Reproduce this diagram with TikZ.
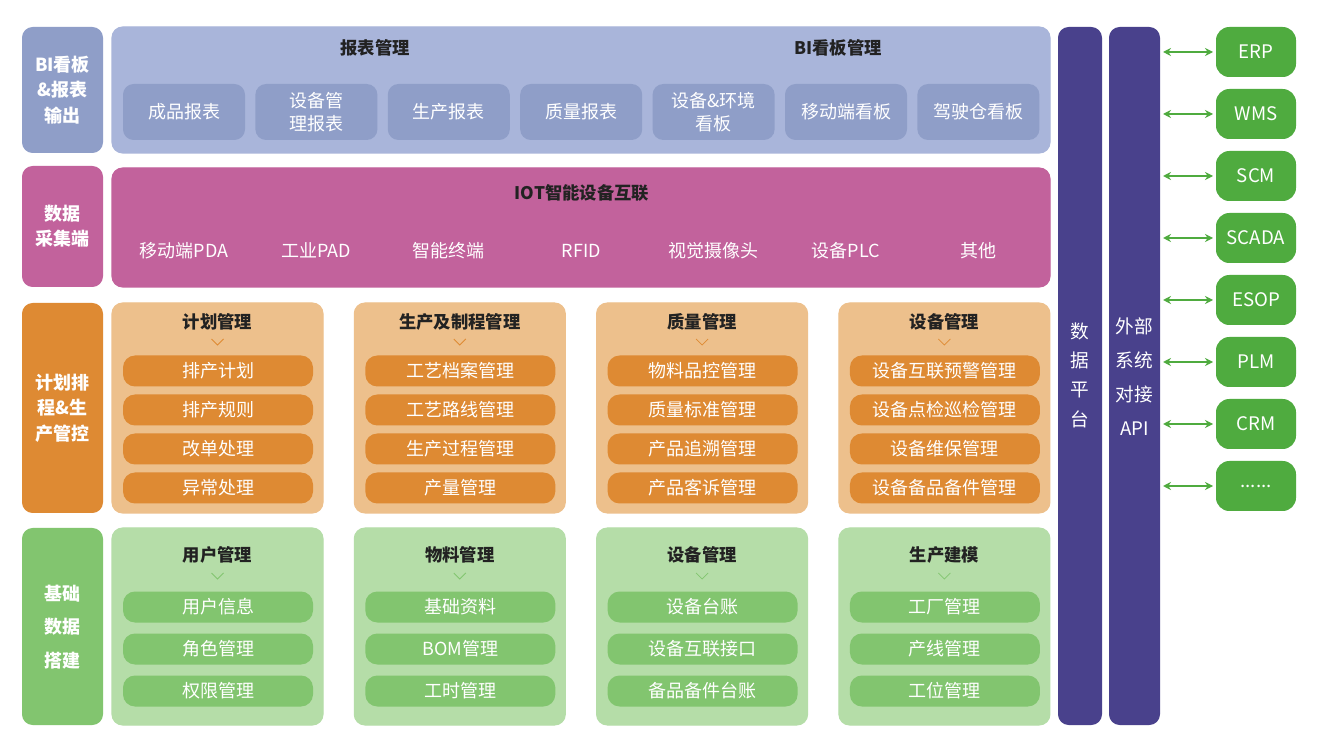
\documentclass[tikz,border=0pt]{standalone}
\usepackage{fontspec}
\setmainfont{Noto Sans CJK SC}
\usetikzlibrary{arrows.meta}
\newcommand\mysixdots{......}
\definecolor{cB}{HTML}{8F9EC8}
\definecolor{cBl}{HTML}{A9B5DA}
\definecolor{cP}{HTML}{C2629C}
\definecolor{cO}{HTML}{DE8A33}
\definecolor{cOl}{HTML}{EDC08C}
\definecolor{cG}{HTML}{82C56F}
\definecolor{cGl}{HTML}{B5DDA8}
\definecolor{cGd}{HTML}{4FAB3F}
\definecolor{cV}{HTML}{49418C}
\definecolor{tx}{HTML}{222222}
\begin{document}
\begin{tikzpicture}[x=0.75pt,y=-0.75pt,
  lab/.style={rounded corners=7pt,text=white,font=\fontsize{13.5}{19}\selectfont\bfseries,align=center,inner sep=0},
  pill/.style={rounded corners=7pt,text=white,font=\fontsize{13.5}{16}\selectfont,align=center,inner sep=0},
  panel/.style={rounded corners=8pt,draw,line width=0.8pt,fill=white},
  ttl/.style={font=\fontsize{13}{15}\selectfont\bfseries,text=tx},
  chev/.style={line width=0.6pt}]
\useasboundingbox (0,0) rectangle (1318,748);
\fill[white] (0,0) rectangle (1318,748);
% left labels
\fill[cB,rounded corners=8pt] (22,27) rectangle (103,153);
\node[lab] (l1) at (62.5,90) {BI看板\\\&报表\\输出};
\fill[cP,rounded corners=8pt] (22,166) rectangle (103,287);
\node[lab] (l2) at (62.5,226) {数据\\采集端};
\fill[cO,rounded corners=8pt] (22,303) rectangle (103,513);
\node[lab] (l3) at (62.5,408) {计划排\\程\&生\\产管控};
\fill[cG,rounded corners=8pt] (22,528) rectangle (103,725);
\node[lab,font=\fontsize{13.5}{25}\selectfont\bfseries] (l4) at (62.5,627) {基础\\数据\\搭建};
% row1
\draw[panel,cBl] (112,27) rectangle (1050,153);
\node[ttl] (t1) at (375,48) {报表管理};
\draw[chev,cBl] (369,66)--(375,72)--(381,66);
\node[ttl] (t2) at (838,48) {BI看板管理};
\draw[chev,cBl] (832,66)--(838,72)--(844,66);
\foreach \t [count=\i] in {成品报表,设备管\\理报表,生产报表,质量报表,设备\&环境\\看板,移动端看板,驾驶仓看板}{
  \pgfmathsetmacro\xa{123+(\i-1)*132.4}
  \fill[cB,rounded corners=8pt] (\xa,84) rectangle ++(122,56);
  \node[pill,font=\fontsize{13.5}{17}\selectfont] (r1b\i) at (\xa+61,112) {\t};
}
% row2
\draw[panel,cP] (112,168) rectangle (1050,287);
\node[ttl] (t3) at (582,193) {IOT智能设备互联};
\draw[chev,cP] (576,213)--(582,219)--(588,213);
\foreach \t [count=\i] in {移动端PDA,工业PAD,智能终端,RFID,视觉摄像头,设备PLC,其他}{
  \pgfmathsetmacro\xa{123+(\i-1)*132.4}
  \fill[cP,rounded corners=9pt] (\xa,233) rectangle ++(122,35);
  \node[pill] (r2b\i) at (\xa+61,250.5) {\t};
}
% row3
\foreach \h/\a/\b/\c/\d [count=\j] in {计划管理/排产计划/排产规则/改单处理/异常处理,
  生产及制程管理/工艺档案管理/工艺路线管理/生产过程管理/产量管理,
  质量管理/物料品控管理/质量标准管理/产品追溯管理/产品客诉管理,
  设备管理/设备互联预警管理/设备点检巡检管理/设备维保管理/设备备品备件管理}{
  \pgfmathsetmacro\xa{112+(\j-1)*242.3}
  \draw[panel,cOl] (\xa,303) rectangle ++(211,210);
  \node[ttl] (r3t\j) at (\xa+105.5,322) {\h};
  \draw[chev,cO] (\xa+99.5,339)--(\xa+105.5,345)--(\xa+111.5,339);
  \foreach \t/\y [count=\k] in {\a/371,\b/410,\c/449,\d/488}{
    \fill[cO,rounded corners=9pt] (\xa+11,\y-15.5) rectangle ++(190,31);
    \node[pill] (r3b\j\k) at (\xa+106,\y) {\t};
  }
}
% row4
\foreach \h/\a/\b/\c [count=\j] in {用户管理/用户信息/角色管理/权限管理,
  物料管理/基础资料/BOM管理/工时管理,
  设备管理/设备台账/设备互联接口/备品备件台账,
  生产建模/工厂管理/产线管理/工位管理}{
  \pgfmathsetmacro\xa{112+(\j-1)*242.3}
  \draw[panel,cGl] (\xa,528) rectangle ++(211,197);
  \node[ttl] (r4t\j) at (\xa+105.5,555) {\h};
  \draw[chev,cG] (\xa+99.5,573)--(\xa+105.5,579)--(\xa+111.5,573);
  \foreach \t/\y [count=\k] in {\a/607,\b/649,\c/691}{
    \fill[cG,rounded corners=9pt] (\xa+11,\y-15.5) rectangle ++(190,31);
    \node[pill] (r4b\j\k) at (\xa+106,\y) {\t};
  }
}
% platform columns
\fill[cV,rounded corners=8pt] (1058,27) rectangle (1102,725);
\node[lab,font=\fontsize{14}{22}\selectfont] (dp) at (1080,375) {数\\据\\平\\台};
\fill[cV,rounded corners=8pt] (1109,27) rectangle (1160,725);
\node[lab,font=\fontsize{14}{25.5}\selectfont] (api) at (1134.5,377) {外部\\系统\\对接\\API};
% external systems
\foreach \t/\y [count=\i] in {ERP/52,WMS/114,SCM/176,SCADA/238,ESOP/300,PLM/362,CRM/424,\mysixdots/486}{
  \fill[cGd,rounded corners=10pt] (1216,\y-25) rectangle (1296,\y+25);
  \node[pill,font=\fontsize{14}{16}\selectfont] (e\i) at (1256,\y) {\t};
  \coordinate (a\i) at (1163,\y);
  \coordinate (b\i) at (1213,\y);
  \draw[cGd,line width=1.3pt,<->,>={Stealth[length=6pt,width=6pt]}] (a\i)--(b\i);
}
\end{tikzpicture}
\end{document}
